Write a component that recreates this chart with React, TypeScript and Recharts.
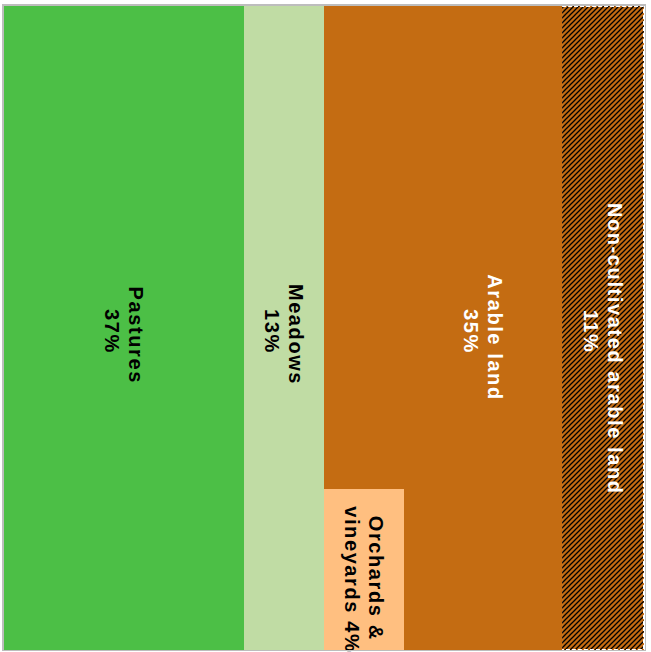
import React from 'react';
import { BarChart, Bar, XAxis, YAxis } from 'recharts';

// four equal bands stacked top to bottom; orchards only fill the bottom band
const rows = ['r1', 'r2', 'r3', 'r4'];

// share of the width, in percent
const pastures = [37.5, 37.5, 37.5, 37.5];
const meadows = [12.5, 12.5, 12.5, 12.5];
const orchards = [0, 0, 0, 12.5];
const arable = [37.2, 37.2, 37.2, 24.7];
const nonCultivated = [12.8, 12.8, 12.8, 12.8];

const seriesKeys = ['pastures', 'meadows', 'orchards', 'arable', 'nonCultivated'];
const labelLines = [
  ['Pastures', '37%'],
  ['Meadows', '13%'],
  ['Orchards &', 'vineyards 4%'],
  ['Arable land', '35%'],
  ['Non-cultivated arable land', '11%'],
];
const colors = ['#4cbf46', '#c0dca4', '#ffbf80', '#c46c12', 'url(#hatch)'];
const textColors = ['#000', '#000', '#000', '#fff', '#fff'];

const data = rows.map((row, i) => ({
  row,
  pastures: pastures[i],
  meadows: meadows[i],
  orchards: orchards[i],
  arable: arable[i],
  nonCultivated: nonCultivated[i],
}));

const makeShape = (k: number) => (props: any) => {
  const { x, y, width, height, index } = props;
  const last = index === rows.length - 1;
  const cx = x + width / 2;
  // full-height columns are centred on the plot, orchards on their own band
  const cy = k === 2 ? y + height / 2 : y - height;
  const lines = labelLines[k];
  return (
    <g>
      <rect x={x} y={y} width={width} height={height} fill={colors[k]} />
      {last && k === 4 && (
        <path
          d={`M${x},${y - 3 * height + 0.5} H${x + width - 0.5} V${y + height - 0.5} H${x}`}
          fill="none"
          stroke="#fff"
          strokeDasharray="4 2"
        />
      )}
      {last && width > 0 && (
        <text
          transform={`rotate(90 ${cx} ${cy})`}
          fill={textColors[k]}
          fontFamily="'Liberation Sans', Arial, sans-serif"
          fontWeight="bold"
          fontSize={20}
          letterSpacing={1.6}
          textAnchor="middle"
        >
          {lines.map((t, j) => (
            <tspan key={j} x={cx + 2 + (t.length - 1) * 0.75} y={cy - 4.8 + j * 24}>
              {t}
            </tspan>
          ))}
        </text>
      )}
    </g>
  );
};

export default function App() {
  return (
    <div style={{ position: 'absolute', left: 0, top: 0, width: 651, height: 652, background: '#fff' }}>
      <BarChart
        width={651}
        height={652}
        data={data}
        layout="vertical"
        barCategoryGap={0}
        margin={{ top: 6, left: 4, right: 7, bottom: 2 }}
      >
        <defs>
          <pattern id="hatch" patternUnits="userSpaceOnUse" width={5} height={5}>
            <rect width={5} height={5} fill="#c46c12" />
            <path d="M-1,6 L6,-1 M-1,1 L1,-1 M4,6 L6,4" stroke="#000" strokeWidth={1.3} />
          </pattern>
        </defs>
        <XAxis type="number" domain={[0, 100]} hide />
        <YAxis type="category" dataKey="row" hide />
        {seriesKeys.map((key, k) => (
          <Bar key={key} dataKey={key} stackId="a" isAnimationActive={false} shape={makeShape(k)} />
        ))}
      </BarChart>
      <div
        style={{
          position: 'absolute',
          left: 2,
          top: 4,
          width: 644,
          height: 647,
          boxSizing: 'border-box',
          borderTop: '2px solid #bdbdbd',
          borderLeft: '2px solid #bdbdbd',
          borderRight: '1px solid #bdbdbd',
          borderBottom: '1px solid #bdbdbd',
          pointerEvents: 'none',
        }}
      />
    </div>
  );
}
